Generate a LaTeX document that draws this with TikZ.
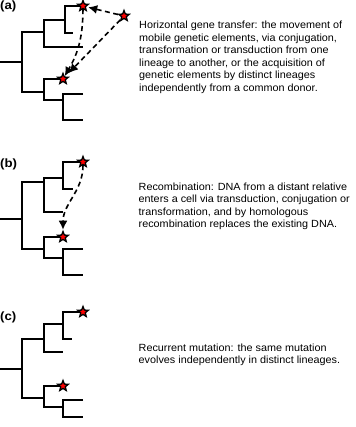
\documentclass[tikz,border=0pt]{standalone}
\usepackage{fontspec}
\setmainfont{Liberation Sans}
\usetikzlibrary{shapes.geometric, arrows.meta}

\tikzset{
    branch/.style={line width=1.3pt, black},
    mut/.style={star, star points=5, star point ratio=2.3, minimum size=11pt, inner sep=0pt, fill=red, draw=black, line width=1.3pt},
    transfer/.style={line width=1.6pt, dash pattern=on 5pt off 3.5pt, -{Latex[length=9pt, width=9pt]}},
    panel/.style={font=\fontsize{12}{14}\selectfont\bfseries, anchor=base west, inner sep=0pt, xscale=1.1},
    caption/.style={font=\fontsize{10.4}{12.5}\selectfont, align=left, anchor=north west, inner sep=0pt, xscale=1.04}
}

\begin{document}
\begin{tikzpicture}[x=1pt, y=-1pt]
    \useasboundingbox (0,0) rectangle (355,427);

    % Panel (a): horizontal gene transfer
    \node[panel] (la) at (0,9.8) {(a)};
    \draw[branch] (0,62) -- (22,62);
    \draw[branch] (44,32) -| (22,92) -- (44,92);
    \draw[branch] (65,20) -| (44,47) -- (83,47);
    \draw[branch] (83,6) -| (65,33) -- (73,33);
    \draw[branch] (63,79) -| (44,100) -- (63,100);
    \draw[branch] (83,94) -| (63,120) -- (83,120);
    \node[mut] (a1) at (83,6) {};
    \node[mut] (a2) at (63,79) {};
    \node[mut] (a3) at (124,16) {};
    \draw[transfer, shorten >=2pt] (a3) -- (a1);
    \draw[transfer, shorten >=5pt] (a3) -- (a2);
    \draw[transfer] (a1) to[bend left=15] (a2);
    \node[caption] (ta) at (139,21) {Horizontal gene transfer: the movement of\\
        mobile genetic elements, via conjugation,\\
        transformation or transduction from one\\
        lineage to another, or the acquisition of\\
        genetic elements by distinct lineages\\
        independently from a common donor.};

    % Panel (b): recombination
    \node[panel] (lb) at (0,168) {(b)};
    \draw[branch] (0,219) -- (22,219);
    \draw[branch] (44,182) -| (22,249) -- (44,249);
    \draw[branch] (63,178) -| (44,212) -- (63,212);
    \draw[branch] (83,162) -| (63,189) -- (73,189);
    \draw[branch] (63,237) -| (44,258) -- (63,258);
    \draw[branch] (83,249) -| (63,275) -- (83,275);
    \node[mut] (b1) at (83,162) {};
    \node[mut] (b2) at (63,237) {};
    \draw[transfer] (b1) to[out=-90, in=90] (b2);
    \node[caption] (tb) at (138.5,182.5) {Recombination: DNA from a distant relative\\
        enters a cell via transduction, conjugation or\\
        transformation, and by homologous\\
        recombination replaces the existing DNA.};

    % Panel (c): recurrent mutation
    \node[panel] (lc) at (0,320) {(c)};
    \draw[branch] (0,369) -- (22,369);
    \draw[branch] (44,339) -| (22,398) -- (44,398);
    \draw[branch] (63,324) -| (44,352) -- (63,352);
    \draw[branch] (83,312) -| (63,339) -- (72,339);
    \draw[branch] (63,386) -| (44,407) -- (63,407);
    \draw[branch] (83,400) -| (63,417) -- (83,417);
    \node[mut] (c1) at (83,312) {};
    \node[mut] (c2) at (63,386) {};
    \node[caption] (tc) at (138.5,343.3) {Recurrent mutation: the same mutation\\
        evolves independently in distinct lineages.};
\end{tikzpicture}
\end{document}
